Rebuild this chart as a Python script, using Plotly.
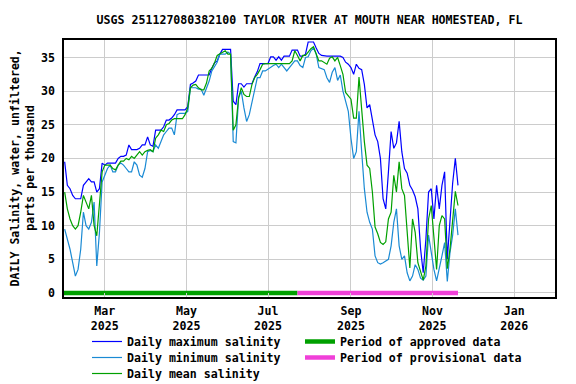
import datetime as dt
import plotly.graph_objects as go

# ---- data (every 2nd day starting 2025-01-30) ----
start_date = dt.date(2025, 1, 30)
step_days = 2

max_sal = [19.5, 16, 15.5, 14.5, 14, 14, 14, 16, 16.5, 17, 16.5, 16.5, 15, 15.5, 19.3,
           19, 19.3, 19.3, 19.3, 19.3, 20, 20.3, 20.3, 20.5, 22, 21.3, 21.3, 21.3, 21.5, 22,
           22, 23.2, 22, 21.8, 24.2, 24.2, 24.2, 24.7, 25.7, 25.7, 26, 26.5, 27.2, 27.2, 27.2,
           27.2, 27.7, 31, 31.2, 31.5, 32.4, 32.4, 32.4, 32.4, 32.4, 33.4, 34.2, 34.5, 35.5, 36.2,
           36.2, 36.2, 36.2, 28.5, 28, 31.1, 31.1, 30.6, 31.1, 31.1, 31.1, 32.1, 32.9, 34.1, 34.1,
           34.1, 34.1, 35.1, 35.1, 34.6, 35.1, 34.6, 35.2, 35.2, 35.2, 36.1, 36.1, 36.1, 35.2, 35.2,
           35.5, 37.3, 37.3, 37.3, 36.4, 35.6, 35.3, 35.2, 35.2, 35.2, 35.2, 35.2, 35.2, 35.2, 35,
           34.3, 34, 33.5, 32.5, 34, 33.4, 33.2, 31, 27.5, 28, 25.7, 23.5, 22.5, 20, 14,
           12.5, 18, 24, 21.5, 22.3, 25.5, 21, 18.5, 17.8, 16, 15.3, 14.3, 12.5, 6.6, 3,
           8, 15, 15.5, 11, 16, 12.5, 16, 18, 5, 11, 16.3, 20, 16]

min_sal = [9.5, 8, 6.5, 4.5, 2.5, 3.5, 6.5, 12, 10, 9.5, 10.5, 13.5, 4, 9, 16.5,
           17.5, 18.5, 19, 18, 18, 19, 19.3, 19, 18.5, 18, 18, 19.5, 19, 17.5, 17.2,
           18.5, 21, 21.2, 21, 22, 21.5, 22.5, 23.5, 24, 24.5, 24.5, 23.5, 26.5, 26.7, 26.7,
           26.7, 27, 30.5, 30.5, 30.5, 30.3, 30.3, 29.4, 30.5, 31.5, 33, 33.7, 34.3, 35.5, 35.5,
           35.5, 35.8, 35.5, 22.5, 22.3, 29, 30, 27.5, 25.5, 26.5, 28.5, 30.5, 32, 32, 33,
           33, 33.3, 33.5, 33.8, 34, 33.5, 34, 33.5, 33, 33.5, 34, 34.5, 34.5, 33.8, 33.5,
           35, 35.1, 36, 36.4, 35.5, 33.5, 33.3, 33.2, 32, 31.3, 32.8, 33.5, 31.6, 32.4, 30,
           28.4, 27, 23, 20, 21, 27, 21, 15.5, 12, 10.5, 9.5, 5.5, 4.5, 4.3, 4.5,
           4.7, 5, 7, 10.5, 12.5, 7, 5, 5.5, 3, 1.8, 2.5, 4.2, 3.5, 2.2, 1.9,
           2.5, 8.6, 6, 3.5, 1.8, 3.5, 5.5, 7.5, 1.7, 6, 8.6, 12.5, 8.6]

mean_sal = [15, 12.5, 11, 10, 9.5, 10, 12, 14.5, 13.5, 12.5, 14.5, 10, 8.5, 13, 18,
            19, 19, 19, 18.5, 18.3, 19, 19.6, 19.6, 20, 19.8, 20.3, 20, 20.5, 21, 20.5,
            21, 21.2, 21.3, 21, 23, 23.5, 24.2, 24, 25, 25.2, 25.7, 25.9, 25.9, 25.9, 25.9,
            26.5, 27.5, 30.5, 30.9, 31, 30.5, 30.2, 30.2, 31.2, 33, 33.4, 34.2, 35.3, 35.5, 35.8,
            36, 35.5, 35.5, 24.2, 25, 29, 30.5, 29.5, 29.2, 29.2, 31, 32, 32.5, 33.2, 34,
            34.1, 34.1, 34.1, 34.1, 34.1, 34.1, 34.1, 34.1, 34.1, 34.1, 34.5, 36, 35.3, 34.5, 35.3,
            35.3, 35.8, 36.3, 36.6, 35.5, 34.5, 34.5, 34.2, 34, 34.9, 35.1, 34.5, 35, 33.8, 32.5,
            29.8, 29.2, 28.8, 26, 26, 32.1, 27, 22.5, 19, 18.5, 15, 9.8, 8.8, 7.5, 7.2,
            7.6, 11, 12, 17.5, 15, 19.5, 15.5, 14.5, 9.5, 3.7, 11, 9, 4.5, 3.2, 1.9,
            4, 11, 13, 8, 3.5, 10, 11.5, 11, 3.6, 6.5, 11, 15.1, 13]

approved_period = ["2025-01-29T12:00", "2025-07-23"]
provisional_period = ["2025-07-23", "2025-11-20"]

tick_vals = ["2025-03-01", "2025-05-01", "2025-07-01", "2025-09-01", "2025-11-01", "2026-01-01"]
tick_text = ["Mar<br>2025", "May<br>2025", "Jul<br>2025", "Sep<br>2025", "Nov<br>2025", "Jan<br>2026"]

dates = [start_date + dt.timedelta(days=step_days * i) for i in range(len(max_sal))]

W, H = 576, 384
FONT = "DejaVu Sans Mono"
fnt = dict(family=FONT, size=11.6, color="black", weight="bold")

fig = go.Figure()
fig.add_trace(go.Scatter(x=dates, y=max_sal, mode="lines", name="Daily maximum salinity",
                         line=dict(color="#0000ff", width=1.2), legend="legend", showlegend=True))
fig.add_trace(go.Scatter(x=dates, y=min_sal, mode="lines", name="Daily minimum salinity",
                         line=dict(color="#1a8ad4", width=1.2), legend="legend2", showlegend=True))
fig.add_trace(go.Scatter(x=dates, y=mean_sal, mode="lines", name="Daily mean salinity",
                         line=dict(color="#00a000", width=1.2), legend="legend3", showlegend=True))
fig.add_trace(go.Scatter(x=approved_period, y=[0, 0], mode="lines", name="Period of approved data",
                         line=dict(color="#00a000", width=4.5), legend="legend4", showlegend=True))
fig.add_trace(go.Scatter(x=provisional_period, y=[0, 0], mode="lines", name="Period of provisional data",
                         line=dict(color="#f040d8", width=4.5), legend="legend5", showlegend=True))


def leg(xpx, ytop_px):
    return dict(x=xpx / W, y=1 - ytop_px / H, xref="container", yref="container",
                xanchor="left", yanchor="top", font=fnt, itemwidth=30,
                bgcolor="rgba(0,0,0,0)", borderwidth=0, visible=True)


PL, PR, PT, PB = 56, 547, 32, 289  # plot area in figure pixels

fig.update_layout(
    width=W, height=H, showlegend=True,
    margin=dict(l=PL, r=W - PR, t=PT, b=H - PB, autoexpand=False),
    paper_bgcolor="white", plot_bgcolor="white",
    font=fnt,
    title=dict(text="USGS 251127080382100 TAYLOR RIVER AT MOUTH NEAR HOMESTEAD, FL",
               x=0.5, xref="paper", xanchor="center", y=1 - 12 / H, yref="container",
               yanchor="middle", font=fnt),
    xaxis=dict(range=["2025-01-29T12:00", "2026-01-31T12:00"], tickvals=tick_vals, ticktext=tick_text,
               showgrid=True, gridcolor="#cccccc", gridwidth=1.3, showline=True, linecolor="black",
               linewidth=1.5, mirror=True, ticks="inside", ticklen=4, tickcolor="#cccccc",
               zeroline=False, tickfont=fnt, automargin=False, ticklabelstandoff=2),
    yaxis=dict(range=[-0.6, 37.6], tickvals=[0, 5, 10, 15, 20, 25, 30, 35],
               showgrid=True, gridcolor="#cccccc", gridwidth=1.3, showline=True, linecolor="black",
               linewidth=1.5, mirror=True, ticks="", zeroline=False, tickfont=fnt, automargin=False,
               ticklabelstandoff=5),
    legend=leg(79, 319),
    legend2=leg(79, 335),
    legend3=leg(79, 351),
    legend4=leg(292, 319),
    legend5=leg(292, 335),
    annotations=[dict(text="DAILY Salinity, water, unfiltered,<br>parts per thousand",
                      xref="paper", yref="paper", x=-(PL - 14) / (PR - PL), y=0.5,
                      xanchor="center", yanchor="middle", textangle=-90,
                      showarrow=False, font=fnt)],
)

fig.write_html("out.html")
